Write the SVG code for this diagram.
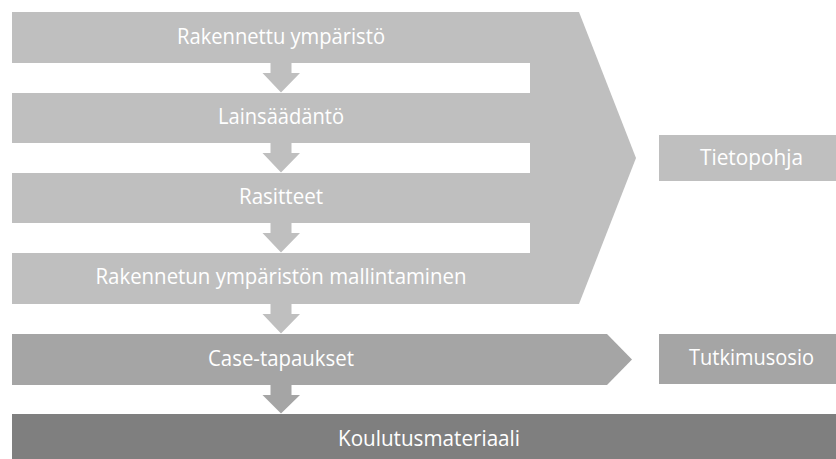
<svg xmlns="http://www.w3.org/2000/svg" width="836" height="459" viewBox="0 0 836 459">
<style>
.l1{fill:#bfbfbf}
.l2{fill:#a5a5a5}
.l3{fill:#7f7f7f}
text{font-family:"Open Sans","Noto Sans",sans-serif;font-size:22px;fill:#ffffff;text-anchor:middle}
</style>
<rect width="836" height="459" fill="#ffffff"/>
<g id="tietopohja-chevron">
<polygon class="l1" points="530,12 579,12 636,158 579,304 530,304"/>
</g>
<g id="rakennettu-ymparisto">
<rect class="l1" x="12" y="12" width="520" height="51"/>
<text x="281" y="44" textLength="208" lengthAdjust="spacingAndGlyphs">Rakennettu ympäristö</text>
</g>
<g id="lainsaadanto">
<rect class="l1" x="12" y="93" width="520" height="50"/>
<text x="281" y="124" textLength="126" lengthAdjust="spacingAndGlyphs">Lainsäädäntö</text>
</g>
<g id="rasitteet">
<rect class="l1" x="12" y="173" width="520" height="50"/>
<text x="281" y="204" textLength="84" lengthAdjust="spacingAndGlyphs">Rasitteet</text>
</g>
<g id="mallintaminen">
<rect class="l1" x="12" y="253" width="520" height="51"/>
<text x="281" y="284" textLength="371" lengthAdjust="spacingAndGlyphs">Rakennetun ympäristön mallintaminen</text>
</g>
<g id="case-tapaukset">
<polygon class="l2" points="12,334 607,334 632,359.5 607,385 12,385"/>
<text x="281" y="366" textLength="146" lengthAdjust="spacingAndGlyphs">Case-tapaukset</text>
</g>
<g id="koulutusmateriaali">
<rect class="l3" x="12" y="414" width="830" height="50"/>
<text x="429" y="446" textLength="182" lengthAdjust="spacingAndGlyphs">Koulutusmateriaali</text>
</g>
<g id="tietopohja">
<rect class="l1" x="659" y="135" width="185" height="46"/>
<text x="751.5" y="165" textLength="103" lengthAdjust="spacingAndGlyphs">Tietopohja</text>
</g>
<g id="tutkimusosio">
<rect class="l2" x="659" y="334" width="185" height="50"/>
<text x="751.5" y="365" textLength="125" lengthAdjust="spacingAndGlyphs">Tutkimusosio</text>
</g>
<g id="connectors">
<polygon class="l1" points="270.5,62 291.5,62 291.5,73 300,73 281,92.5 262.5,73 270.5,73"/>
<polygon class="l1" points="270.5,142 291.5,142 291.5,153 300,153 281,172.5 262.5,153 270.5,153"/>
<polygon class="l1" points="270.5,222 291.5,222 291.5,233 300,233 281,252.5 262.5,233 270.5,233"/>
<polygon class="l1" points="270.5,303 291.5,303 291.5,314 300,314 281,333.5 262.5,314 270.5,314"/>
<polygon class="l2" points="270.5,384 291.5,384 291.5,395 300,395 281,413.5 262.5,395 270.5,395"/>
</g>
</svg>
